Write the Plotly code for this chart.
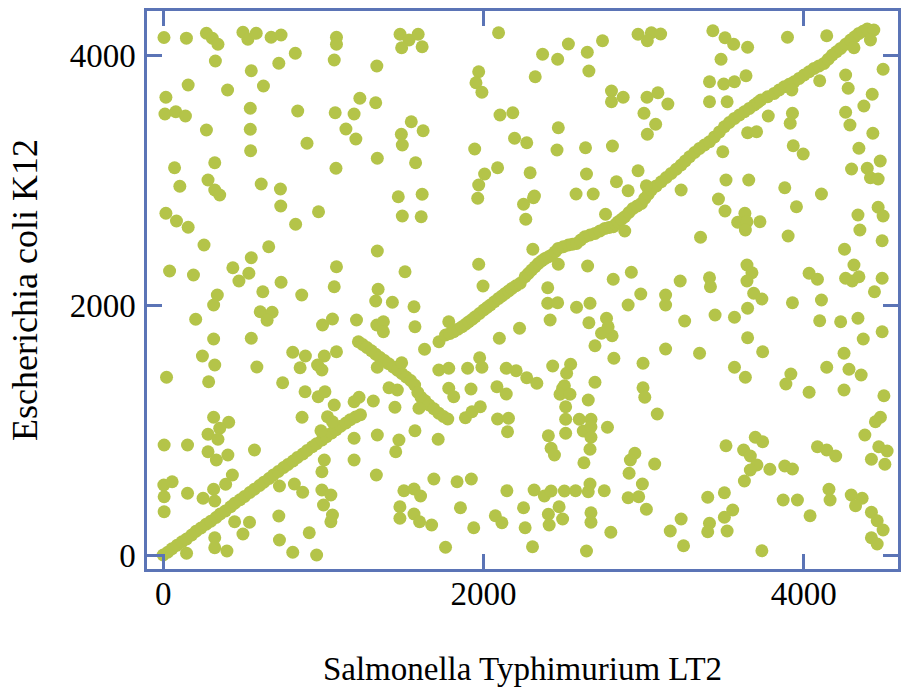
import plotly.graph_objects as go

# ---- data (gene positions) ----
lower_x = [0, 28, 55, 87, 118, 146, 178, 205, 236, 268, 297, 330, 356, 388, 421, 447, 480, 508, 541, 569,
           602, 628, 661, 688, 719, 752, 779, 811, 838, 872, 899, 931, 958, 992, 1019, 1052, 1080, 1108, 1141,
           1168, 1201, 1232]
lower_y = [0, 22, 50, 78, 106, 128, 160, 190, 216, 246, 270, 300, 328, 352, 386, 414, 442, 468, 500, 526,
           556, 582, 612, 640, 668, 700, 724, 752, 780, 808, 836, 866, 890, 920, 946, 976, 1002, 1030, 1056,
           1082, 1104, 1122]

inv_x = [1219, 1245, 1272, 1300, 1327, 1354, 1381, 1408, 1436, 1463, 1490, 1517, 1545, 1570, 1590, 1610,
         1635, 1660, 1690, 1721, 1750, 1777]
inv_y = [1706, 1684, 1660, 1634, 1606, 1580, 1556, 1530, 1504, 1478, 1452, 1424, 1396, 1360, 1300, 1262,
         1234, 1200, 1170, 1134, 1108, 1088]

upper_x = [1722, 1763, 1790, 1814, 1840, 1866, 1888, 1908, 1930, 1949, 1975, 2001, 2022, 2043, 2068, 2094,
           2115, 2136, 2157, 2177, 2203, 2229, 2260, 2280, 2301, 2322, 2343, 2364, 2385, 2406, 2426, 2447,
           2467, 2498, 2530, 2555, 2581, 2607, 2633, 2665, 2696, 2727, 2758, 2784, 2810, 2825, 2841, 2862,
           2882, 2908, 2934, 2960, 2986, 3007, 3028, 3048, 3079, 3110, 3141, 3172, 3203, 3234, 3260, 3287,
           3318, 3349, 3380, 3411, 3442, 3473, 3504, 3535, 3567, 3598, 3629, 3660, 3691, 3712, 3732, 3774,
           3815, 3846, 3878, 3909, 3940, 3971, 4002, 4033, 4064, 4095, 4126, 4152, 4178, 4204, 4230, 4261,
           4292, 4318, 4344, 4370, 4396, 4437, 4416, 4313]
upper_y = [1706, 1760, 1772, 1786, 1806, 1826, 1846, 1866, 1886, 1906, 1932, 1960, 1980, 2000, 2026, 2053,
           2072, 2093, 2113, 2133, 2154, 2174, 2226, 2252, 2280, 2306, 2333, 2354, 2373, 2386, 2400, 2426,
           2453, 2466, 2480, 2486, 2493, 2520, 2546, 2560, 2573, 2593, 2613, 2620, 2626, 2646, 2666, 2686,
           2706, 2740, 2773, 2793, 2813, 2853, 2886, 2920, 2953, 2986, 3020, 3053, 3086, 3120, 3153, 3186,
           3220, 3253, 3280, 3306, 3345, 3385, 3426, 3460, 3493, 3520, 3546, 3573, 3600, 3620, 3640, 3666,
           3693, 3720, 3746, 3766, 3786, 3813, 3840, 3866, 3893, 3913, 3933, 3966, 4000, 4026, 4053, 4086,
           4120, 4146, 4173, 4190, 4208, 4200, 4120, 4058]

scatter_pts = [
    (5, 4140), (145, 4135), (270, 4174), (307, 4134), (342, 4086), (498, 4182), (529, 4126), (581, 4174), (674, 4142), (736, 4160),
    (326, 3952), (550, 3874), (722, 3934), (825, 4014), (156, 3760), (402, 3720), (626, 3752), (17, 3662), (11, 3528), (79, 3546),
    (139, 3512), (544, 3574), (840, 3552), (270, 3400), (544, 3406), (898, 3294), (546, 3234), (71, 3098), (322, 3138), (104, 2950),
    (280, 3000), (322, 2920), (353, 2880), (612, 2968), (732, 2928),
    (1082, 4142), (1082, 4086), (1068, 3960), (1479, 4166), (1535, 4120), (1592, 4166), (1489, 4058), (1617, 4066), (2094, 4178), (2369, 4006),
    (1334, 3912), (1970, 3866), (1953, 3778), (1990, 3702), (1228, 3654), (1327, 3618), (1074, 3538), (1192, 3528), (2103, 3520), (2183, 3538),
    (1141, 3408), (1203, 3328), (1549, 3466), (1623, 3394), (1487, 3366), (1493, 3280), (2194, 3334), (2270, 3298), (1945, 3248), (1337, 3174),
    (1079, 3094), (1576, 3138), (2088, 3098), (2007, 3048), (1970, 2960), (1468, 2866), (1617, 2886), (1964, 2854),
    (2463, 3966), (2530, 4088), (2648, 4022), (2743, 4114), (2965, 4166), (3048, 4178), (3106, 4168), (3023, 4114), (3432, 4194), (2323, 3826),
    (2658, 3872), (2799, 3712), (2799, 3626), (2872, 3662), (3021, 3662), (3089, 3698), (3151, 3608), (3002, 3534), (3075, 3446), (3023, 3366),
    (3411, 3786), (3411, 3626), (2467, 3418), (2459, 3240), (2637, 3258), (2805, 3272), (2291, 3058), (2643, 3048), (2965, 3074), (2830, 2986),
    (2903, 2914), (3017, 2954), (3234, 2920), (2318, 2872), (2578, 2888), (2685, 2888),
    (3508, 4138), (3562, 4086), (3649, 4062), (3483, 3966), (3898, 4142), (4143, 4154), (3500, 3768), (3567, 3786), (3639, 3834), (3521, 3626),
    (3929, 3534), (3915, 3454), (3778, 3512), (3649, 3378), (3705, 3386), (3494, 3226), (3934, 3274), (3996, 3208), (4099, 3794), (4261, 3840),
    (4277, 3734), (4495, 3886), (4427, 3686), (4375, 3592), (4261, 3542), (4288, 3440), (4431, 3374), (4344, 3254), (4477, 3152), (4298, 3088),
    (4396, 3094), (4416, 3018), (4464, 3008), (3514, 3000), (3656, 3000), (3881, 2938), (4110, 2888), (3467, 2848), (3925, 3720),
    (17, 2734), (83, 2672), (156, 2622), (734, 2792), (970, 2746), (827, 2646), (255, 2480), (659, 2466), (550, 2378), (40, 2272),
    (189, 2240), (435, 2298), (535, 2254), (473, 2192), (736, 2182), (1082, 2306), (622, 2106), (865, 2080), (1068, 2146), (338, 2080),
    (315, 2000), (203, 1886), (606, 1946), (680, 1942), (649, 1878), (995, 1840), (1057, 1888), (315, 1728), (550, 1734), (245, 1592),
    (322, 1520), (809, 1622), (888, 1592), (1006, 1592), (1082, 1626), (855, 1498), (964, 1520), (991, 1480), (585, 1504), (21, 1422),
    (284, 1386), (746, 1378), (886, 1306), (968, 1266), (1010, 1306),
    (2250, 2806), (2312, 2858), (1493, 2712), (1611, 2706), (2264, 2686), (1337, 2432), (1970, 2326), (1510, 2266), (1342, 2126), (1327, 2032),
    (1431, 2022), (1566, 1986), (1997, 2152), (1207, 1880), (1334, 1840), (1375, 1866), (1375, 1786), (1572, 1826), (1783, 1866), (2225, 1814),
    (2099, 1734), (1632, 1646), (1337, 1502), (1489, 1538), (1976, 1578), (1990, 1502), (1721, 1480), (1783, 1494), (1901, 1494), (2142, 1494),
    (2204, 1474), (1410, 1338), (1462, 1320), (1783, 1334), (1814, 1266), (1922, 1328), (2084, 1346), (2142, 1288),
    (2762, 2726), (2882, 2592), (3355, 2542), (2308, 2446), (2467, 2326), (2650, 2312), (2401, 2138), (2810, 2206), (2923, 2262), (3228, 2192),
    (3411, 2218), (3417, 2146), (2982, 2088), (3137, 2080), (3137, 2000), (2401, 2014), (2463, 2018), (2581, 1982), (2665, 2014), (2903, 2000),
    (2416, 1880), (2658, 1858), (2768, 1894), (2737, 1774), (2803, 1754), (2778, 1826), (3256, 1872), (3446, 1920), (2696, 1674), (3137, 1648),
    (3349, 1614), (2814, 1574), (2996, 1534), (2432, 1512), (2544, 1526), (2519, 1454), (2270, 1418), (2333, 1374), (2505, 1354), (2696, 1382),
    (2996, 1338),
    (3508, 2752), (3632, 2734), (3587, 2662), (3645, 2666), (3635, 2600), (3726, 2666), (3954, 2786), (3902, 2552), (4338, 2720), (4464, 2782),
    (4495, 2712), (4350, 2600), (4489, 2514), (4254, 2446), (3645, 2320), (3676, 2258), (3645, 2192), (4313, 2320), (4033, 2254), (4085, 2206),
    (4261, 2214), (4302, 2192), (4344, 2226), (4489, 2214), (4441, 2106), (3687, 2094), (3738, 2048), (3649, 1974), (3929, 2018), (4110, 2040),
    (3567, 1902), (4099, 1874), (4230, 1866), (4338, 1894), (4489, 1786), (4371, 1728), (3649, 1738), (3743, 1626), (4251, 1614), (3567, 1502),
    (3635, 1422), (3919, 1448), (3888, 1368), (4143, 1502), (4282, 1486), (4358, 1440), (4033, 1302), (4251, 1320),
    (1068, 1200), (867, 1102), (1026, 1106), (1057, 1066), (315, 1102), (409, 1062), (353, 1014), (280, 966), (342, 926), (6, 880),
    (152, 880), (985, 994), (570, 840), (280, 826), (332, 760), (404, 800), (432, 640), (390, 566), (4, 560), (56, 586),
    (6, 466), (152, 494), (249, 454), (315, 526), (322, 432), (6, 346), (726, 552), (819, 568), (871, 502), (1006, 760),
    (991, 520), (1047, 480), (1001, 400), (446, 266), (539, 262), (498, 168), (722, 312), (726, 120), (912, 178), (1047, 266),
    (809, 22), (958, 0), (322, 138), (322, 58), (398, 32), (146, 14), (991, 666),
    (1192, 1226), (1223, 1262), (1312, 1232), (1447, 1182), (1597, 1174), (1887, 1098), (1928, 1146), (1980, 1186), (2088, 1088), (2156, 1094),
    (2150, 986), (1337, 960), (1472, 920), (1452, 826), (1572, 994), (1717, 926), (1192, 760), (1331, 640), (1690, 608), (1835, 586),
    (1924, 608), (2146, 514), (1503, 514), (1566, 528), (1607, 472), (1478, 386), (1478, 294), (1566, 328), (1601, 266), (1676, 240),
    (1856, 378), (1057, 320), (2074, 314), (2115, 258), (1939, 218), (1763, 62), (1192, 934),
    (2494, 1334), (2478, 1286), (2540, 1286), (3007, 1262), (2654, 1240), (2513, 1186), (2513, 1086), (2598, 1086), (2671, 1086), (2623, 992),
    (2671, 1026), (2671, 942), (2513, 974), (2405, 954), (2774, 1022), (3085, 1128), (2422, 854), (2443, 800), (2665, 846), (2627, 738),
    (2945, 814), (2917, 760), (2909, 654), (3069, 728), (2992, 568), (2316, 520), (2380, 472), (2422, 512), (2505, 512), (2575, 514),
    (2654, 506), (2665, 568), (2754, 514), (2903, 458), (2969, 466), (3017, 366), (2250, 378), (2472, 386), (2494, 288), (2405, 326),
    (2410, 240), (2671, 338), (2671, 262), (2260, 218), (2795, 182), (2306, 66), (2643, 32), (3234, 288), (3166, 192), (3249, 74),
    (4500, 1274), (4478, 1102), (4447, 1066), (4381, 960), (3697, 942), (3743, 906), (3514, 874), (3624, 840), (3666, 792), (3707, 720),
    (3666, 680), (3788, 686), (3881, 712), (3929, 688), (4085, 866), (4143, 840), (4199, 792), (4468, 866), (4520, 832), (4422, 766),
    (4506, 726), (3629, 592), (3504, 498), (3400, 462), (3871, 440), (3960, 440), (4157, 526), (4164, 440), (4296, 480), (4364, 454),
    (4323, 394), (3556, 360), (3504, 302), (3521, 192), (3411, 254), (3400, 186), (4039, 314), (4422, 342), (4458, 274), (4495, 200),
    (4422, 138), (4458, 88), (3738, 34),
]
scatter_x = [p[0] for p in scatter_pts]
scatter_y = [p[1] for p in scatter_pts]

tick_vals = [0, 2000, 4000]
x_title = "Salmonella Typhimurium LT2"
y_title = "Escherichia coli K12"

all_x = lower_x + inv_x + upper_x + scatter_x
all_y = lower_y + inv_y + upper_y + scatter_y

POINT = "#b4c449"
FRAME = "#5b74b6"
FONT = "Liberation Serif"

fig = go.Figure(go.Scatter(
    x=all_x, y=all_y, mode="markers",
    marker=dict(size=13, color=POINT, line=dict(width=0)),
    hoverinfo="x+y", showlegend=False,
))

axis_common = dict(
    tickvals=tick_vals, ticktext=[str(v) for v in tick_vals],
    ticks="inside", ticklen=15, tickwidth=2.5, tickcolor=FRAME,
    showline=True, linecolor=FRAME, linewidth=2.5, mirror="ticks",
    showgrid=False, zeroline=False,
    tickfont=dict(family=FONT, size=33, color="#000000"),
)

fig.update_layout(
    width=901, height=692,
    margin=dict(l=147, r=0, t=11, b=123),
    plot_bgcolor="white", paper_bgcolor="white",
    font=dict(family=FONT, size=33, color="#000000"),
    xaxis=dict(range=[-101, 4588],
               title=dict(text=x_title, font=dict(family=FONT, size=33), standoff=46),
               ticklabelstandoff=-6, **axis_common),
    yaxis=dict(range=[-112, 4352],
               title=dict(text=y_title, font=dict(family=FONT, size=36), standoff=22),
               ticklabelstandoff=2, **axis_common),
)

fig.write_html("out.html")
